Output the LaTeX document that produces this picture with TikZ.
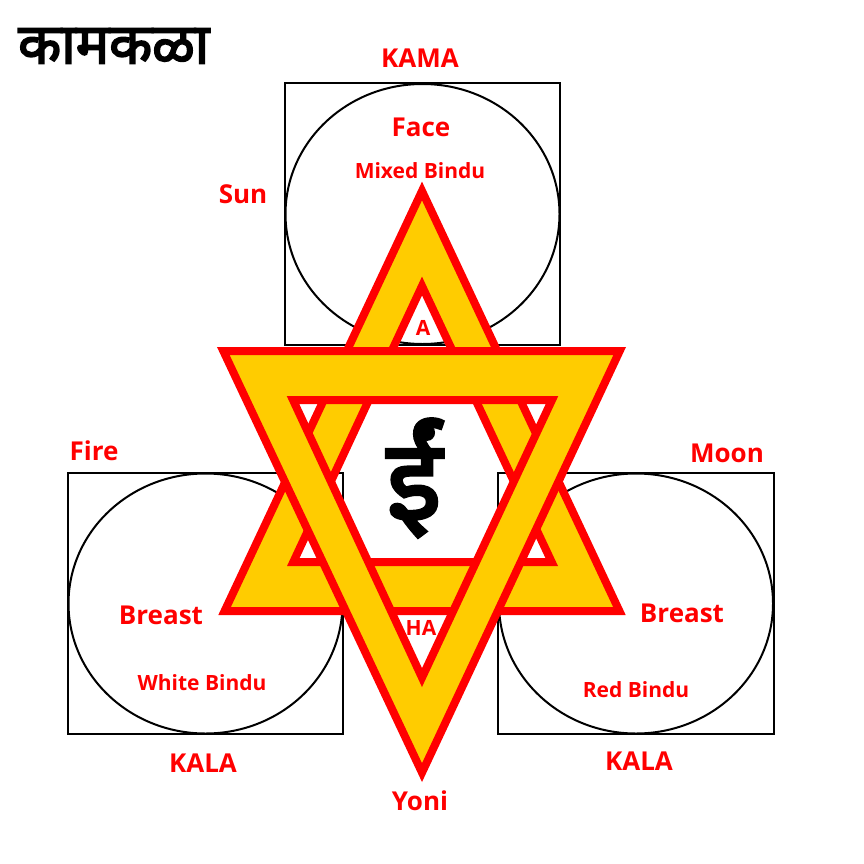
\documentclass[tikz,border=0pt]{standalone}
\usepackage{fontspec}
\setmainfont{Open Sans}
\newfontfamily\devafont[Script=Devanagari, FakeBold=3]{Noto Sans}
\usetikzlibrary{positioning}
\definecolor{kamared}{RGB}{255,0,0}
\definecolor{kamayellow}{RGB}{255,204,0}

\begin{document}
\begin{tikzpicture}[x=1pt, y=-1pt,
  frame/.style={draw=black, line width=2pt},
  band/.style={fill=kamayellow, even odd rule, draw=kamared, line width=8pt, line join=miter},
  lbl/.style={text=kamared, inner sep=0pt, anchor=base, font=\bfseries\fontsize{26}{28}\selectfont},
  sublbl/.style={lbl, font=\bfseries\fontsize{21}{24}\selectfont},
  deva/.style={inner sep=0pt, text=black, font=\devafont\fontsize{56}{60}\selectfont}
]
  \useasboundingbox (0,0) rectangle (864,864);

  % squares with their circles
  \draw[frame] (285,83) rectangle (560,345);
  \draw[frame] (422.5,214) ellipse [x radius=137pt, y radius=130pt];
  \draw[frame] (68,473) rectangle (343,734);
  \draw[frame] (205.5,603.5) ellipse [x radius=137pt, y radius=130pt];
  \draw[frame] (498,473) rectangle (774,734);
  \draw[frame] (636,603.5) ellipse [x radius=137pt, y radius=130pt];

  % upward triangle, then the downward one over it
  \draw[band] (422,191) -- (619.4,611) -- (224.6,611) -- cycle
              (422,286) -- (551.7,562) -- (293.3,562) -- cycle;
  \draw[band] (223.3,351) -- (619.7,351) -- (422,772.6) -- cycle
              (293,400) -- (552,400) -- (422,677.6) -- cycle;

  % labels
  \node[deva, anchor=west] (title) at (18,46) {कामकळा};
  \node[deva, font=\devafont\fontsize{112}{120}\selectfont] (seed) at (414,478) {ईं};

  \node[lbl] (kama) at (420,68) {KAMA};
  \node[lbl] (face) at (421,136) {Face};
  \node[sublbl] (mixed) at (420,178) {Mixed Bindu};
  \node[lbl] (sun) at (243,203) {Sun};
  \node[sublbl] (a) at (423,335) {A};
  \node[lbl] (fire) at (94,460) {Fire};
  \node[lbl] (moon) at (727,462) {Moon};
  \node[lbl] (breastl) at (161,624) {Breast};
  \node[sublbl] (whitebindu) at (202,690) {White Bindu};
  \node[lbl] (kalal) at (203,772) {KALA};
  \node[lbl] (breastr) at (682,622) {Breast};
  \node[sublbl] (redbindu) at (636,697) {Red Bindu};
  \node[lbl] (kalar) at (639,770) {KALA};
  \node[sublbl] (ha) at (421,635) {HA};
  \node[lbl] (yoni) at (420,810) {Yoni};
\end{tikzpicture}
\end{document}
